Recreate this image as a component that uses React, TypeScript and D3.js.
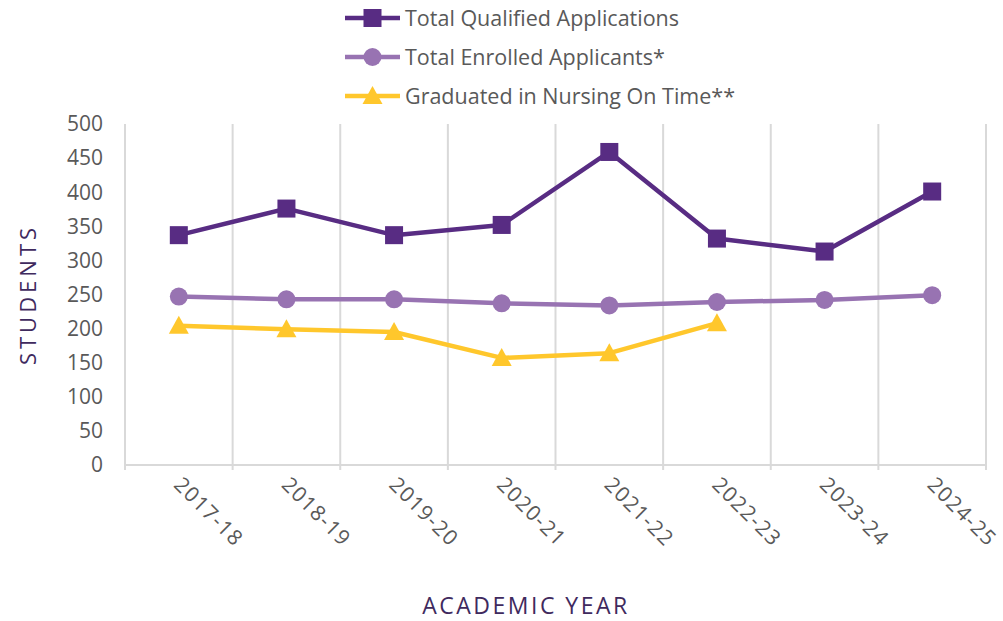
import React from 'react';
import * as d3 from 'd3';

const years = ['2017-18', '2018-19', '2019-20', '2020-21', '2021-22', '2022-23', '2023-24', '2024-25'];
const qualified = [337, 376, 337, 352, 459, 332, 313, 401];
const enrolled = [247, 243, 243, 237, 234, 239, 242, 249];
const graduated = [204, 199, 195, 157, 164, 208];
const yTicks = [0, 50, 100, 150, 200, 250, 300, 350, 400, 450, 500];

const FONT = '"Open Sans", sans-serif';
const TEXT = '#595959';
const TITLE = '#3f2a5e';
const GRID = '#d9d9d9';

const series = [
  { name: 'Total Qualified Applications', values: qualified, color: '#582c83', marker: 'square' },
  { name: 'Total Enrolled Applicants*', values: enrolled, color: '#9873b2', marker: 'circle' },
  { name: 'Graduated in Nursing On Time**', values: graduated, color: '#ffc72c', marker: 'triangle' },
];

const Marker = ({ type, x, y, color }: { type: string; x: number; y: number; color: string }) => {
  if (type === 'square') return <rect x={x - 9} y={y - 9} width={18} height={18} fill={color} />;
  if (type === 'circle') return <circle cx={x} cy={y} r={9} fill={color} />;
  return <path d={`M${x},${y - 10}L${x + 10},${y + 8}L${x - 10},${y + 8}Z`} fill={color} />;
};

export default function App() {
  const width = 1003;
  const height = 621;
  const margin = { top: 124, right: 17, bottom: 156, left: 125 };

  const x = d3.scaleBand<string>().domain(years).range([margin.left, width - margin.right]);
  const y = d3.scaleLinear().domain([0, 500]).range([height - margin.bottom, margin.top]);
  const cx = (i: number) => (x(years[i]) ?? 0) + x.bandwidth() / 2;

  const line = d3.line<number>().x((_, i) => cx(i)).y(d => y(d));
  const bounds = [...years.map(yr => x(yr) ?? 0), width - margin.right];

  return (
    <svg width={width} height={height} style={{ position: 'absolute', left: 0, top: 0, fontFamily: FONT }}>
      <rect width={width} height={height} fill="#fff" />
      {bounds.map((b, i) => (
        <line key={i} x1={b} x2={b} y1={y(500)} y2={y(0) + 5} stroke={GRID} strokeWidth={2} />
      ))}
      <line x1={margin.left} x2={width - margin.right} y1={y(0)} y2={y(0)} stroke={GRID} strokeWidth={2} />

      {yTicks.map(t => (
        <text key={t} x={103} y={y(t)} dy="0.35em" textAnchor="end" fontSize={21} fill={TEXT}>{t}</text>
      ))}

      {years.map((yr, i) => (
        <text key={yr} transform={`translate(${cx(i) - 6},${y(0) + 21}) rotate(45)`} fontSize={21}
          letterSpacing={1.2} fill={TEXT}>{yr}</text>
      ))}

      <text transform={`translate(36,${(y(0) + y(500)) / 2}) rotate(-90)`} textAnchor="middle" fontSize={22}
        letterSpacing={4} fill={TITLE}>STUDENTS</text>
      <text x={526} y={614} textAnchor="middle" fontSize={23} letterSpacing={2.5} fill={TITLE}>ACADEMIC YEAR</text>

      {series.map(s => (
        <g key={s.name}>
          <path d={line(s.values) ?? ''} fill="none" stroke={s.color} strokeWidth={4.5} strokeLinejoin="round" />
          {s.values.map((v, i) => (
            <Marker key={i} type={s.marker} x={cx(i)} y={y(v)} color={s.color} />
          ))}
        </g>
      ))}

      {series.map((s, i) => {
        const ly = 18 + i * 39;
        return (
          <g key={s.name}>
            <line x1={345} x2={400} y1={ly} y2={ly} stroke={s.color} strokeWidth={4.5} />
            <g transform="translate(372.5,0)">
              <Marker type={s.marker} x={0} y={ly} color={s.color} />
            </g>
            <text x={405} y={ly} dy="0.35em" fontSize={21.5} fill={TEXT}>{s.name}</text>
          </g>
        );
      })}
    </svg>
  );
}
